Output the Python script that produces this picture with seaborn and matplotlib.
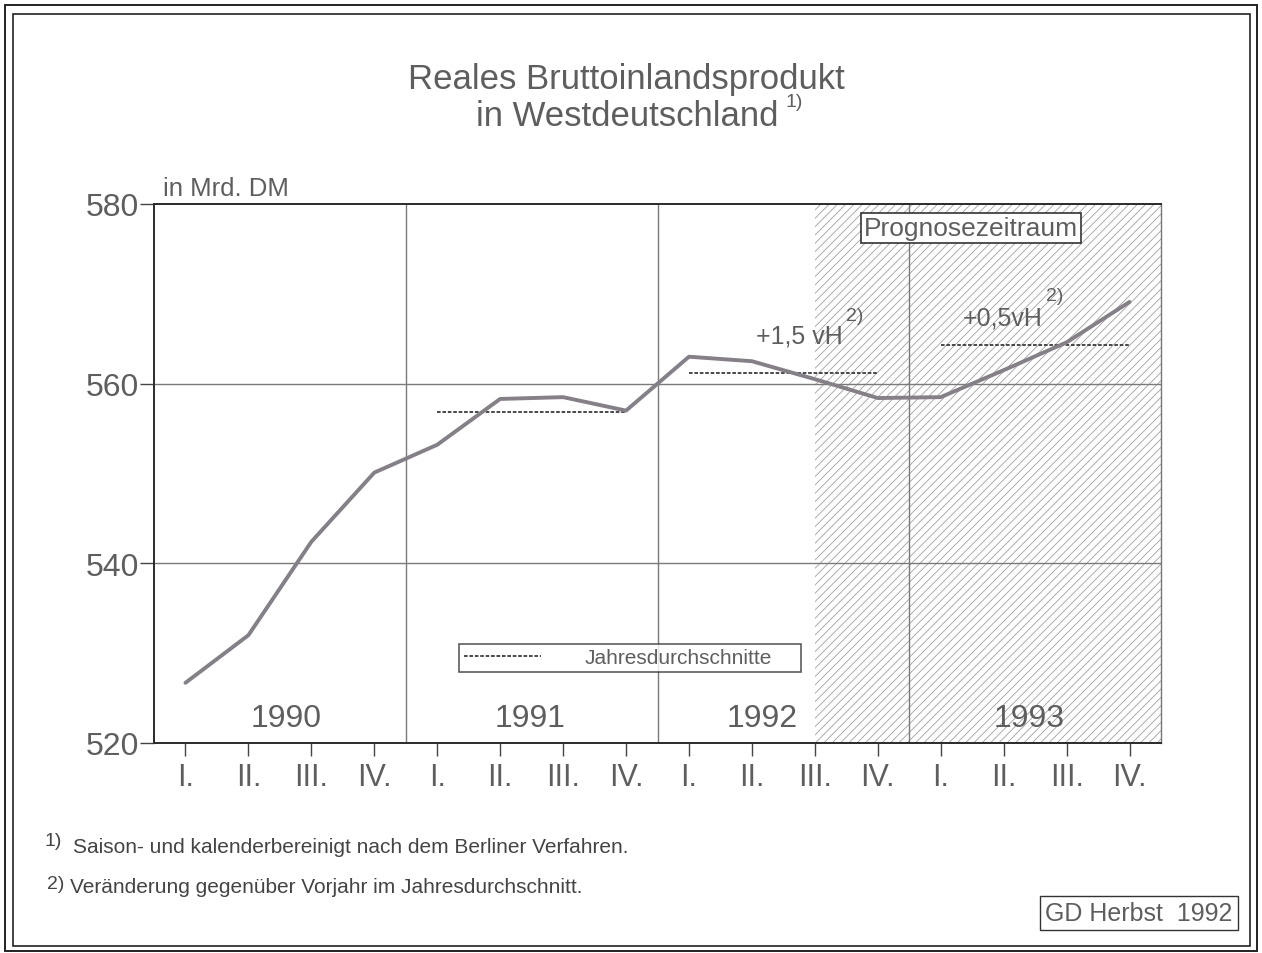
import numpy as np
import pandas as pd
import matplotlib
matplotlib.use('Agg')
import matplotlib.pyplot as plt
from matplotlib.lines import Line2D
from matplotlib.patches import Rectangle
import seaborn as sns

# Quartalswerte (Mrd. DM), 1990 I. bis 1993 IV.
quartale = ['I.', 'II.', 'III.', 'IV.'] * 4
jahre = ['1990', '1991', '1992', '1993']
bip = [526.7, 532.0, 542.4, 550.1,
       553.2, 558.3, 558.5, 557.0,
       563.0, 562.5, 560.5, 558.4,
       558.5, 561.5, 564.6, 569.1]
# Jahresdurchschnitte 1991-1993
avg_jahre = ['1991', '1992', '1993']
avg_werte = [556.8, 561.2, 564.3]
avg_start = [4, 8, 12]
avg_ende = [7, 11, 15]
veraenderung = ['+1,5 vH', '+0,5vH']
prognose_start = 10
yticks = [520, 540, 560, 580]

df = pd.DataFrame({'pos': np.arange(len(bip)), 'bip': bip})

sns.set_theme(style='white')
plt.rcParams['font.family'] = ['Liberation Sans', 'DejaVu Sans']
plt.rcParams['hatch.linewidth'] = 0.6
txt = '#5e5e5e'

fig = plt.figure(figsize=(12.62, 9.54), dpi=100)
W, H = 1262, 954
ax = fig.add_axes([154 / W, 1 - 744 / H, (1161 - 154) / W, (744 - 205) / H])

ax.axvspan(prognose_start, 16, facecolor='none', edgecolor='#a0a0a0', hatch='////', lw=0, zorder=0)
for x in [3.5, 7.5, 11.5]:
    ax.axvline(x, color='#7a7a7a', lw=1.0, zorder=1)
for y in [540, 560]:
    ax.axhline(y, color='#7a7a7a', lw=1.0, zorder=1)

ax.hlines(avg_werte, avg_start, avg_ende, colors='#3a3a3a', lw=1.3,
          linestyles=(0, (2, 1)), zorder=2)
sns.lineplot(data=df, x='pos', y='bip', ax=ax, color='#857f88', lw=2.8, zorder=3)

ax.set_xlim(-0.5, 15.5)
ax.set_ylim(520, 580)
ax.set_xticks(range(len(quartale)))
ax.set_xticklabels(quartale)
ax.set_yticks(yticks)
ax.set_xlabel('')
ax.set_ylabel('')
ax.tick_params(axis='x', bottom=True, length=9, width=1, color='#444', pad=5,
               labelsize=22, labelcolor=txt)
ax.tick_params(axis='y', left=True, length=10, width=1, color='#444', pad=1,
               labelsize=23, labelcolor=txt)
for s in ['left', 'bottom', 'top']:
    ax.spines[s].set_color('#2a2a2a')
    ax.spines[s].set_linewidth(1.4)
ax.spines['right'].set_color('#777')
ax.spines['right'].set_linewidth(1.0)

# Jahreszahlen
for j, xp in zip(jahre, [1.6, 5.48, 9.17, 13.41]):
    ax.text(xp, 522.8, j, ha='center', va='center', fontsize=23, color=txt)

# Veraenderungsraten
ax.text(9.76, 565.4, veraenderung[0], ha='center', va='center', fontsize=18, color=txt)
ax.text(10.63, 567.6, '2)', ha='center', va='center', fontsize=14, color=txt)
ax.text(12.98, 567.4, veraenderung[1], ha='center', va='center', fontsize=18, color=txt)
ax.text(13.81, 569.8, '2)', ha='center', va='center', fontsize=14, color=txt)

ax.text(12.48, 577.3, 'Prognosezeitraum', ha='center', va='center', fontsize=19,
        color=txt, bbox=dict(boxstyle='square,pad=0.12', fc='white', ec='#333', lw=1.2))

ax.text(0.009, 1.008, 'in Mrd. DM', transform=ax.transAxes, ha='left', va='bottom',
        fontsize=18.5, color=txt)

handle = Line2D([], [], color='#3a3a3a', lw=1.3, ls=(0, (2, 1)))
leg = ax.legend([handle], ['Jahresdurchschnitte'], loc='center',
                bbox_to_anchor=(0.293, 0.133, 0.36, 0.05), mode='expand',
                fontsize=15, handlelength=3.7, handletextpad=2.1, borderpad=0.2,
                frameon=True, fancybox=False, labelcolor=txt)
leg.get_frame().set_edgecolor('#333')
leg.get_frame().set_linewidth(1.2)

# Titel
fig.text(0.496, 1 - 80 / H, 'Reales Bruttoinlandsprodukt', ha='center', va='center',
         fontsize=25, color=txt)
fig.text(0.497, 1 - 117 / H, 'in Westdeutschland', ha='center', va='center',
         fontsize=25, color=txt)
fig.text(786 / W, 1 - 103 / H, '1)', ha='left', va='center', fontsize=14, color=txt)

# Fussnoten
fig.text(45 / W, 1 - 842 / H, '1)', ha='left', va='center', fontsize=14, color='#444')
fig.text(73 / W, 1 - 848 / H, 'Saison- und kalenderbereinigt nach dem Berliner Verfahren.',
         ha='left', va='center', fontsize=15, color='#444')
fig.text(47 / W, 1 - 885 / H, '2)', ha='left', va='center', fontsize=14, color='#444')
fig.text(70 / W, 1 - 888 / H, 'Veränderung gegenüber Vorjahr im Jahresdurchschnitt.',
         ha='left', va='center', fontsize=15, color='#444')
fig.text(1139 / W, 1 - 914 / H, 'GD Herbst  1992', ha='center', va='center',
         fontsize=18, color=txt,
         bbox=dict(boxstyle='square,pad=0.2', fc='white', ec='#333', lw=1.0))

# Rahmen
fig.patches.append(Rectangle((5 / W, 1 - 952 / H), 1252 / W, 946 / H, transform=fig.transFigure,
                             fill=False, ec='#222', lw=1.4))
fig.patches.append(Rectangle((13 / W, 1 - 947 / H), 1237 / W, 932 / H, transform=fig.transFigure,
                             fill=False, ec='#222', lw=1.2))

fig.savefig('out.png', dpi=100, facecolor='white')
